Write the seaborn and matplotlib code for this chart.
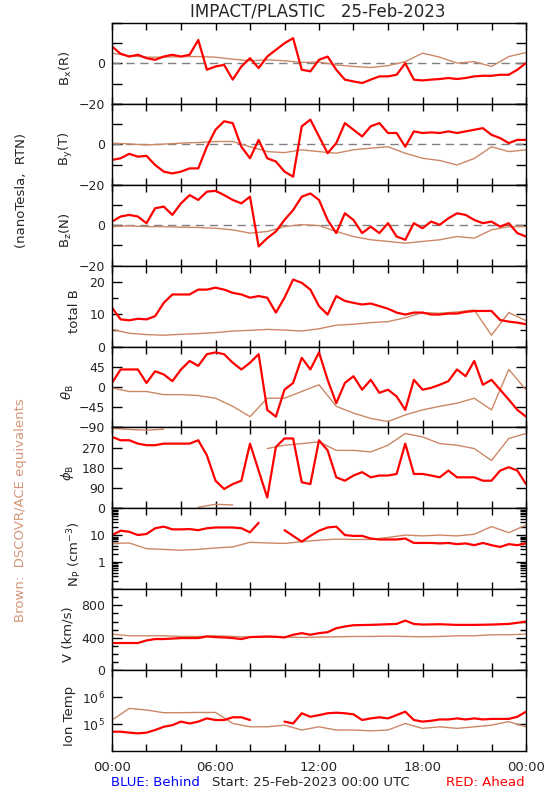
import numpy as np
import pandas as pd
import matplotlib
matplotlib.use("Agg")
import matplotlib.pyplot as plt
import matplotlib.dates as mdates
from matplotlib.ticker import FixedLocator, LogLocator, NullFormatter, NullLocator
import seaborn as sns

# time grids: red (STEREO Ahead) every 30 min, brown (DSCOVR/ACE) hourly
t_red = pd.date_range("2023-02-25 00:00", periods=49, freq="30min")
t_brown = pd.date_range("2023-02-25 00:00", periods=25, freq="60min")
nan = np.nan

# --- B field components (nT) ---
bx_red = [8.4, 4.8, 3.4, 4.3, 2.6, 1.8, 3.4, 4.3, 3.4, 4.3, 11.6, -3.1, -1.5, -0.7, -8.0, -1.5,
          2.6, -2.3, 3.4, 6.7, 10.0, 12.5, -3.1, -3.9, 1.8, 3.4, -3.1, -8.0, -8.9, -9.7, -8.0, -6.4,
          -6.4, -5.6, 0.1, -8.0, -8.4, -8.0, -7.7, -7.2, -7.7, -7.2, -6.4, -6.1, -6.1, -5.6, -5.6, -3.1, 0.2]
bx_brown = [5.1, 3.8, 3.1, 3.1, 3.4, 3.4, 3.1, 2.1, 1.3, 1.8, 1.3, 0.5, 0.7, -0.7, -1.5, -2.0,
            -1.1, 0.9, 5.1, 3.1, 0.2, 0.9, -1.5, 3.4, 5.4]

by_red = [-7.7, -6.9, -4.7, -6.1, -5.7, -10.2, -13.5, -14.4, -13.5, -11.9, -11.9, -1.2, 7.2, 11.4, 10.5, -1.2,
          -6.9, 2.2, -6.9, -8.5, -13.5, -16.0, 8.9, 12.2, 3.9, -4.4, 0.6, 10.5, 7.2, 3.9, 8.9, 10.5,
          5.6, 5.6, -1.2, 6.4, 5.6, 5.9, 5.6, 6.4, 5.6, 6.4, 7.2, 8.0, 4.7, 3.1, 0.6, 2.2, 2.2]
by_brown = [0.6, 0.2, -0.3, 0.1, 0.6, 0.9, 1.4, 1.4, -1.2, -3.6, -4.1, -2.7, -3.6, -4.4, -2.7, -1.9,
            -1.2, -4.4, -6.9, -8.0, -10.2, -7.0, -1.2, -3.6, -2.7]

bz_red = [1.8, 4.3, 5.1, 4.3, 1.0, 8.4, 9.2, 5.1, 10.8, 14.9, 12.5, 16.6, 17.0, 14.9, 12.5, 10.8,
          14.1, -10.5, -6.4, -3.1, 2.6, 7.5, 14.1, 15.7, 12.5, 2.6, -3.9, 5.9, 2.6, -3.9, -0.7, -3.9,
          1.0, -5.6, -7.2, 1.0, -1.5, 1.8, 0.2, 3.4, 5.9, 5.1, 2.6, 1.0, 1.8, -0.7, 1.0, -3.9, -5.6]
bz_brown = [-0.7, -0.3, -0.7, -0.7, -1.0, -1.1, -1.5, -2.3, -3.9, -3.1, -0.7, 0.3, -0.2, -3.1, -5.6, -7.2,
            -8.0, -8.9, -8.0, -7.2, -5.6, -6.4, -2.3, -0.7, -0.7]

btot_red = [12.0, 8.4, 8.1, 8.6, 8.4, 9.4, 13.5, 16.1, 16.1, 16.1, 17.6, 17.6, 18.2, 17.6, 16.6, 16.1,
            15.1, 15.6, 15.1, 10.5, 15.1, 20.7, 19.7, 17.6, 12.5, 9.9, 15.6, 14.1, 13.5, 13.0, 13.3, 12.5,
            11.7, 10.5, 9.9, 10.5, 10.5, 9.9, 9.9, 10.2, 10.2, 10.7, 11.0, 11.0, 11.0, 8.2, 7.7, 7.4, 6.9]
btot_brown = [5.3, 4.1, 3.7, 3.5, 3.8, 4.0, 4.3, 4.8, 5.0, 5.3, 5.1, 4.8, 5.5, 6.6, 6.9, 7.4,
              7.7, 8.9, 10.5, 10.3, 10.7, 11.3, 3.5, 10.5, 8.0]

# --- field angles (deg) ---
theta_red = [9, 39, 39, 39, 9, 35, 28, 13, 39, 58, 47, 73, 77, 73, 54, 39,
             54, 73, -51, -66, -6, 9, 65, 39, 77, 16, -36, 9, 24, -6, 16, -13,
             -6, -21, -51, 16, -6, -2, 5, 13, 39, 24, 58, 5, 16, -6, -28, -51, -66]
theta_brown = [-2, -10, -10, -17, -17, -19, -25, -43, -66, -25, -25, -10, 5, -43, -58, -70,
               -77, -62, -51, -43, -36, -25, -51, 39, -6]

phi_red = [318, 303, 303, 288, 281, 281, 288, 288, 288, 288, 303, 236, 123, 86, 108, 123,
           288, 168, 48, 273, 311, 311, 116, 108, 303, 258, 138, 123, 146, 161, 138, 146,
           146, 153, 288, 153, 153, 146, 138, 168, 138, 138, 138, 123, 123, 168, 183, 168, 108]
phi_brown = [356, 351, 348, 352, nan, 5, 18, 15, nan, 266, 281, 288, 296, 258, 258, 251,
             281, 333, 318, 288, 281, 266, 213, 311, 333]

# --- plasma ---
np_red = [10.2, 14.8, 13.5, 10.2, 11.2, 18.2, 21.0, 16.6, 16.6, 17.0, 15.5, 18.2, 19.5, 19.5, 19.5, 18.2,
          12.9, 29.0, nan, nan, 15.5, 9.5, 5.8, 9.5, 14.8, 19.5, 21.0, 10.2, 9.5, 9.5, 7.6, 7.0,
          7.0, 7.0, 7.6, 5.2, 5.2, 5.2, 5.0, 5.2, 4.7, 5.0, 4.3, 5.2, 4.3, 3.7, 4.7, 4.3, 5.0]
np_brown = [5.0, 5.2, 3.2, 3.0, 2.8, 3.0, 3.4, 3.7, 5.5, 5.2, 5.0, 5.8, 6.6, 7.2, 7.0, 7.0,
            8.3, 10.2, 9.5, 10.2, 9.5, 10.9, 21.0, 12.5, 24.0]

v_red = [335, 335, 335, 335, 367, 384, 384, 390, 396, 396, 396, 416, 408, 404, 396, 384,
         408, 412, 416, 412, 404, 437, 457, 437, 457, 469, 518, 539, 555, 557, 559, 563,
         567, 571, 612, 571, 563, 565, 567, 563, 559, 559, 559, 561, 563, 567, 571, 585, 600]
v_brown = [445, 424, 424, 424, 416, 416, 424, 416, 408, 408, 408, 404, 408, 412, 416, 416,
           420, 416, 412, 416, 424, 424, 437, 437, 445]

temp_red = [52000, 52000, 48000, 45000, 48000, 60000, 79000, 91000, 123000, 105000, 123000, 162000,
            141000, 141000, 178000, 178000, 141000, nan, nan, nan, 123000, 105000, 251000, 186000,
            214000, 251000, 263000, 251000, 229000, 141000, 162000, 178000, 162000, 214000, 288000,
            141000, 123000, 132000, 148000, 148000, 162000, 148000, 162000, 148000, 155000, 155000,
            155000, 186000, 288000]
temp_brown = [141000, 380000, 331000, 263000, 263000, 269000, 269000, 105000, 79000, 79000, 91000,
              60000, 79000, 60000, 60000, 56000, 60000, 105000, 69000, 79000, 69000, 79000, 91000,
              123000, 79000]

RED = "#ff0000"
BROWN = "#cc8866"

sns.set_style("ticks")
plt.rcParams["font.family"] = ["DejaVu Sans"]
plt.rcParams["axes.linewidth"] = 1.0


def px(x, y):
    return x / 550, 1 - y / 800


def draw_series(ax, times, values, color, lw):
    # gaps (NaN) split the trace into separate units so the line is broken there
    vals = np.asarray(values, dtype=float)
    df = pd.DataFrame({"t": times, "v": vals, "seg": np.cumsum(np.isnan(vals))})
    df = df.dropna()
    sns.lineplot(data=df, x="t", y="v", units="seg", estimator=None, ax=ax,
                 color=color, lw=lw)


panels = [
    dict(red=bx_red, brown=bx_brown, ylim=(-20, 20), ticks=[-20, -10, 0, 10, 20],
         labels=["\u221220", "", "0", "", ""], label="B$_\\mathregular{x}$(R)", lx=66, zero=True),
    dict(red=by_red, brown=by_brown, ylim=(-20, 20), ticks=[-20, -10, 0, 10, 20],
         labels=["\u221220", "", "0", "", ""], label="B$_\\mathregular{y}$(T)", lx=66, zero=True),
    dict(red=bz_red, brown=bz_brown, ylim=(-20, 20), ticks=[-20, -10, 0, 10, 20],
         labels=["\u221220", "", "0", "", ""], label="B$_\\mathregular{z}$(N)", lx=66, zero=True),
    dict(red=btot_red, brown=btot_brown, ylim=(0, 25), ticks=[0, 10, 20], minor=[5, 15],
         labels=["0", "10", "20"], label="total B", lx=74),
    dict(red=theta_red, brown=theta_brown, ylim=(-90, 90), ticks=[-90, -45, 0, 45, 90],
         labels=["\u221290", "\u221245", "0", "45", ""], label="$\\theta_\\mathregular{B}$", lx=68),
    dict(red=phi_red, brown=phi_brown, ylim=(0, 360), ticks=[0, 90, 180, 270, 360],
         labels=["0", "90", "180", "270", ""], label="$\\phi_\\mathregular{B}$", lx=68),
    dict(red=np_red, brown=np_brown, ylim=(0.1, 100), ticks=[0.1, 1, 10, 100], log=True,
         labels=["", "1", "10", ""], label="N$_\\mathregular{P}$ (cm$^{\\mathregular{-3}}$)", lx=75),
    dict(red=v_red, brown=v_brown, ylim=(0, 1000), ticks=[0, 400, 800],
         minor=[100, 200, 300, 500, 600, 700, 900], labels=["0", "400", "800"],
         label="V (km/s)", lx=68),
    dict(red=temp_red, brown=temp_brown, ylim=(1e4, 1e7), ticks=[1e5, 1e6], log=True, nominor=True,
         labels=["10$^\\mathregular{5}$", "10$^\\mathregular{6}$"], label="Ion Temp", lx=69),
]

fig = plt.figure(figsize=(5.5, 8), dpi=100)
axes = fig.subplots(len(panels), 1, sharex=True, gridspec_kw=dict(hspace=0))
fig.subplots_adjust(left=112 / 550, right=526 / 550, top=1 - 23 / 800, bottom=1 - 751 / 800)

for ax, p in zip(axes, panels):
    if p.get("log"):
        ax.set_yscale("log")
    if p.get("zero"):
        ax.axhline(0, color="#808080", lw=1.0, ls=(0, (6, 4)), zorder=1)
    draw_series(ax, t_brown, p["brown"], BROWN, 1.0)
    draw_series(ax, t_red, p["red"], RED, 1.6)
    ax.set_ylim(*p["ylim"])
    ax.yaxis.set_major_locator(FixedLocator(p["ticks"]))
    ax.set_yticklabels(p["labels"], fontsize=9)
    if "minor" in p:
        ax.yaxis.set_minor_locator(FixedLocator(p["minor"]))
    elif p.get("log") and not p.get("nominor"):
        ax.yaxis.set_minor_locator(LogLocator(base=10, subs=np.arange(2, 10)))
        ax.yaxis.set_minor_formatter(NullFormatter())
    else:
        ax.yaxis.set_minor_locator(NullLocator())
        ax.yaxis.set_minor_formatter(NullFormatter())
    ax.set_ylabel("")
    ax.tick_params(axis="both", which="both", direction="in", top=True, right=True,
                   color="black", width=1.0)
    ax.tick_params(axis="y", which="major", length=7, pad=5)
    ax.tick_params(axis="y", which="minor", length=4)
    ax.tick_params(axis="x", which="both", length=5)
    for s in ax.spines.values():
        s.set_color("black")
        s.set_linewidth(1.0)
    # panel label, placed like the IDL original
    bb = ax.get_position()
    yc = 1 - (bb.y0 + bb.y1) / 2
    fig.text(p["lx"] / 550, 1 - yc - 5 / 800, p["label"], rotation=90,
             ha="center", va="center", fontsize=9.5)

ax = axes[-1]
ax.set_xlim(t_red[0], t_red[-1])
ax.xaxis.set_major_locator(mdates.HourLocator(byhour=[0, 6, 12, 18]))
ax.xaxis.set_minor_locator(mdates.HourLocator(byhour=range(0, 24, 2)))
ax.xaxis.set_major_formatter(mdates.DateFormatter("%H:%M"))
ax.tick_params(axis="x", labelsize=9.5, pad=7)
ax.set_xlabel("")

fig.text(*px(318, 12), "IMPACT/PLASTIC   25-Feb-2023", ha="center", va="center", fontsize=12)
fig.text(*px(22, 191), "(nanoTesla,  RTN)", rotation=90, ha="center", va="center", fontsize=9.5)
fig.text(*px(21, 510), "Brown:  DSCOVR/ACE equivalents", rotation=90, ha="center", va="center",
         fontsize=9.5, color="#d4967a")
fig.text(*px(111, 783), "BLUE: Behind", ha="left", va="center", fontsize=9.5, color="#0000ff")
fig.text(*px(212, 783), "Start: 25-Feb-2023 00:00 UTC", ha="left", va="center", fontsize=9.5)
fig.text(*px(525, 783), "RED: Ahead", ha="right", va="center", fontsize=9.5, color="#ff0000")

fig.savefig("out.png", dpi=100, facecolor="white")
